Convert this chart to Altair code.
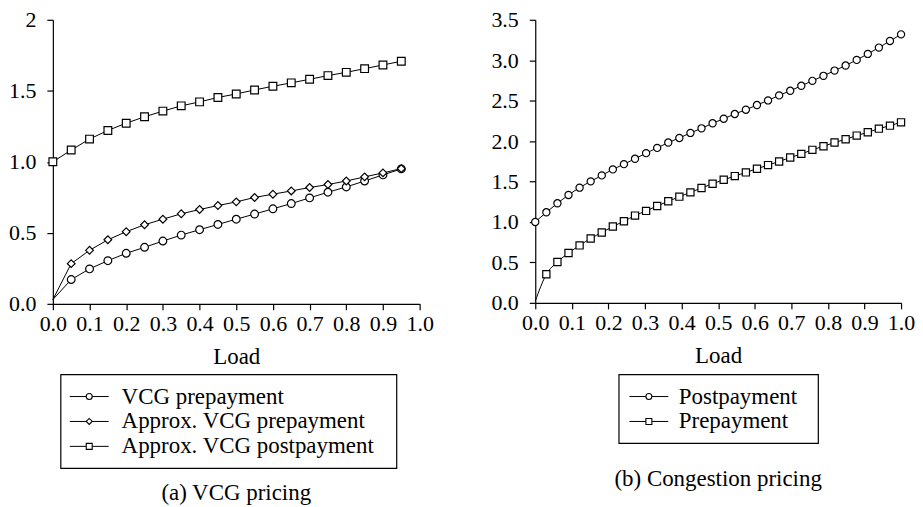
import altair as alt
import pandas as pd

# ---------------- data ----------------
left_load = [0.0, 0.05, 0.10, 0.15, 0.20, 0.25, 0.30, 0.35, 0.40, 0.45,
             0.50, 0.55, 0.60, 0.65, 0.70, 0.75, 0.80, 0.85, 0.90, 0.95]
vcg_prepayment = [0.03, 0.171, 0.246, 0.304, 0.356, 0.398, 0.442, 0.484, 0.522, 0.559,
                  0.596, 0.632, 0.669, 0.706, 0.746, 0.786, 0.823, 0.865, 0.908, 0.950]
approx_vcg_prepayment = [0.03, 0.283, 0.377, 0.451, 0.508, 0.557, 0.596, 0.634, 0.664, 0.692,
                         0.718, 0.749, 0.772, 0.795, 0.819, 0.840, 0.865, 0.894, 0.922, 0.952]
approx_vcg_postpayment = [1.0, 1.083, 1.160, 1.221, 1.272, 1.317, 1.357, 1.394, 1.422, 1.453,
                          1.478, 1.506, 1.532, 1.556, 1.581, 1.607, 1.630, 1.656, 1.682, 1.708]
left_series = ["VCG prepayment", "Approx. VCG prepayment", "Approx. VCG postpayment"]

right_load = [0.0, 0.0303, 0.0606, 0.0909, 0.1212, 0.1515, 0.1818, 0.2121, 0.2424, 0.2727,
              0.3030, 0.3333, 0.3636, 0.3939, 0.4242, 0.4545, 0.4848, 0.5152, 0.5455, 0.5758,
              0.6061, 0.6364, 0.6667, 0.6970, 0.7273, 0.7576, 0.7879, 0.8182, 0.8485, 0.8788,
              0.9091, 0.9394, 0.9697, 1.0]
postpayment = [1.0, 1.12, 1.231, 1.334, 1.424, 1.502, 1.576, 1.650, 1.715, 1.781,
               1.851, 1.916, 1.982, 2.039, 2.101, 2.158, 2.220, 2.277, 2.335, 2.388,
               2.446, 2.503, 2.565, 2.622, 2.684, 2.745, 2.807, 2.872, 2.934, 3.004,
               3.078, 3.156, 3.238, 3.320]
prepayment = [0.02, 0.353, 0.505, 0.616, 0.710, 0.796, 0.870, 0.944, 1.009, 1.079,
              1.137, 1.198, 1.256, 1.313, 1.366, 1.420, 1.473, 1.522, 1.567, 1.613,
              1.658, 1.703, 1.748, 1.797, 1.842, 1.892, 1.937, 1.982, 2.023, 2.068,
              2.109, 2.154, 2.191, 2.232]
right_series = ["Postpayment", "Prepayment"]

x_ticks = [0.0, 0.1, 0.2, 0.3, 0.4, 0.5, 0.6, 0.7, 0.8, 0.9, 1.0]
left_y_ticks = [0.0, 0.5, 1.0, 1.5, 2.0]
right_y_ticks = [0.0, 0.5, 1.0, 1.5, 2.0, 2.5, 3.0, 3.5]

FONT = "Liberation Serif"


def long_df(load, series_names, series_values):
    rows = []
    for name, vals in zip(series_names, series_values):
        for xv, yv in zip(load, vals):
            rows.append({"load": xv, "value": yv, "series": name})
    return pd.DataFrame(rows)


left_df = long_df(left_load, left_series,
                  [vcg_prepayment, approx_vcg_prepayment, approx_vcg_postpayment])
right_df = long_df(right_load, right_series, [postpayment, prepayment])


def panel(df, order, shapes, point_size, ydomain, yticks, ylabel_expr, width, height,
          box, sym_x, text_x, rows, caption, caption_offset, interp):
    x = alt.X("load:Q", scale=alt.Scale(domain=[0, 1], nice=False, zero=False),
              axis=alt.Axis(values=x_ticks, format=".1f", title="Load", labelPadding=4))
    y_scale = alt.Scale(domain=ydomain, nice=False)
    y_axis = alt.Y("value:Q", scale=y_scale,
                   axis=alt.Axis(values=yticks, labelExpr=ylabel_expr, title=None,
                                 labelPadding=11))
    y_plain = alt.Y("value:Q", scale=y_scale, axis=None)
    shape = alt.Shape("series:N", sort=order, scale=alt.Scale(domain=order, range=shapes),
                      legend=None)

    lines = alt.Chart(df).mark_line(color="black", strokeWidth=1, interpolate=interp).encode(
        x=x, y=y_axis, detail="series:N")
    points = alt.Chart(df).transform_filter("datum.value > 0.1").mark_point(
        filled=True, fill="white", stroke="black", strokeWidth=1.2, opacity=1, size=point_size
    ).encode(x=x, y=y_plain, shape=shape)

    # ----- legend (box, line samples, markers, labels), rows placed by a point scale -----
    leg_df = pd.DataFrame({"series": order})
    leg_y = alt.Y("series:N", sort=order, axis=None,
                  scale=alt.Scale(type="point", range=rows, padding=0))
    frame = alt.Chart(pd.DataFrame({"box": [0]})).mark_rect(
        fill="transparent", stroke="black", strokeWidth=1.2
    ).encode(x=alt.value(box[0]), x2=alt.value(box[1]),
             y=alt.value(box[2]), y2=alt.value(box[3]))
    leg_lines = alt.Chart(leg_df).mark_rule(color="black", strokeWidth=1).encode(
        x=alt.value(sym_x - 19.5), x2=alt.value(sym_x + 19.5), y=leg_y)
    leg_points = alt.Chart(leg_df).mark_point(
        filled=True, fill="white", stroke="black", strokeWidth=1.1, opacity=1, size=36
    ).encode(x=alt.value(sym_x), y=leg_y, shape=shape)
    leg_text = alt.Chart(leg_df).mark_text(
        align="left", baseline="middle", font=FONT, fontSize=23, color="black"
    ).encode(x=alt.value(text_x), y=leg_y, text="series:N")

    return alt.layer(lines, points, frame, leg_lines, leg_points, leg_text).resolve_scale(
        y="independent"
    ).properties(
        width=width, height=height,
        title=alt.TitleParams(caption, orient="bottom", anchor="middle", frame="group",
                              offset=caption_offset, font=FONT, fontSize=23,
                              fontWeight="normal", color="black"),
    )


left = panel(left_df, left_series, ["circle", "diamond", "square"], 60,
             [0, 2], left_y_ticks,
             "datum.value == 2 ? '2' : format(datum.value, '.1f')",
             368, 285, [8, 345, 356, 450], 36.5, 69, [378, 428],
             "(a) VCG pricing", 13, "linear")
right = panel(right_df, right_series, ["circle", "square"], 52,
              [0, 3.5], right_y_ticks, "format(datum.value, '.1f')",
              367, 284, [84, 284, 356, 425], 114, 144, [378, 403],
              "(b) Congestion pricing", 24, "monotone")

chart = alt.hconcat(left, right, spacing=57).resolve_scale(
    shape="independent"
).properties(
    padding={"left": 0, "top": 0, "right": 0, "bottom": 0}
).configure_view(
    stroke=None
).configure_axis(
    domainColor="black", domainWidth=1.2, tickColor="black", tickWidth=1.2, tickSize=6,
    labelFont=FONT, labelFontSize=22, labelColor="black",
    titleFont=FONT, titleFontSize=23, titleFontWeight="normal", titleColor="black",
    titlePadding=11, grid=False, labelFlush=False, labelOverlap=False,
)

chart.save("out.html", embed_options={"renderer": "svg", "actions": False})
